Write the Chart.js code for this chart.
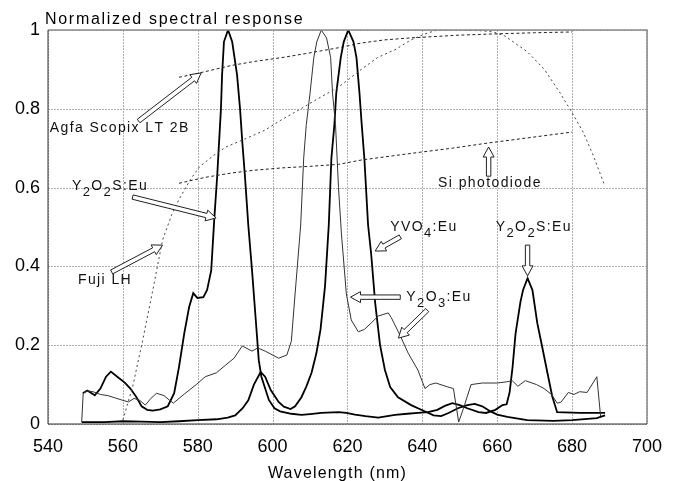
<!DOCTYPE html>
<html>
<head>
<meta charset="utf-8">
<script src="https://cdn.jsdelivr.net/npm/chart.js@4.4.0/dist/chart.umd.min.js"></script>
<style>
  html, body { margin: 0; padding: 0; background: #fff; }
</style>
</head>
<body>
<canvas id="spectrum" width="674" height="481"></canvas>
<script>
// Normalized spectral response vs wavelength

// Y2O2S:Eu (thick, peaks at 588 and 668 nm)
const y2o2sNm = [549.3, 550.5, 552.5, 554, 555.5, 556.8, 558.5, 560.5, 562, 563.5, 565, 566.5, 568, 570, 572, 573.7,
  575, 576.4, 577.7, 578.8, 579.9, 581.5, 582.5, 583.6, 584.4, 585.2, 585.7, 586.2, 586.5, 587, 588.1, 589.2, 590.5,
  591.3, 591.9, 592.6, 593.5, 594.5, 595.5, 596.3, 597, 599, 600.5, 602, 605, 607.7, 610, 613, 617.6, 619.7, 622,
  624.8, 628.2, 632.7, 636, 638.8, 641.5, 644, 646, 648, 650, 652, 655, 657, 659.5, 661.4, 662.5, 663.3, 664.1,
  664.9, 666.2, 666.9, 668.1, 669.4, 670.7, 672, 673.4, 674.7, 676, 682, 688.8];
const y2o2sVal = [0.078, 0.085, 0.073, 0.09, 0.12, 0.133, 0.12, 0.105, 0.09, 0.07, 0.045, 0.036, 0.034, 0.037, 0.045, 0.078,
  0.145, 0.23, 0.297, 0.332, 0.32, 0.322, 0.34, 0.39, 0.518, 0.63, 0.716, 0.8, 0.886, 0.97, 1.0, 0.97, 0.886,
  0.8, 0.716, 0.63, 0.505, 0.39, 0.264, 0.162, 0.12, 0.061, 0.04, 0.032, 0.026, 0.023, 0.025, 0.028, 0.03, 0.028, 0.024,
  0.02, 0.016, 0.023, 0.026, 0.028, 0.03, 0.036, 0.046, 0.053, 0.048, 0.04, 0.03, 0.028, 0.036, 0.048, 0.05, 0.08, 0.145,
  0.23, 0.31, 0.34, 0.37, 0.34, 0.256, 0.196, 0.13, 0.07, 0.03, 0.028, 0.028];

// YVO4:Eu (thick, peak at 620 nm)
const yvo4Nm = [549, 555, 560, 565, 570, 575, 580, 585, 588, 590, 592, 593.5, 595, 596.8, 598, 599.5, 601.6, 603, 604.8,
  606, 607.7, 609, 610.4, 611.7, 612.8, 614, 615, 615.7, 616.5, 617, 618.2, 619, 620.2, 621.6, 622.4, 623.2, 623.8,
  624.5, 625.5, 626.3, 627.4, 628.7, 630, 631.4, 633.5, 637, 640, 643, 645, 647, 649.5, 652, 654, 656, 658.2, 660,
  662.7, 668, 675, 680, 686.6, 688.8];
const yvo4Val = [0.005, 0.005, 0.007, 0.006, 0.005, 0.007, 0.01, 0.012, 0.016, 0.022, 0.04, 0.06, 0.1, 0.132, 0.12, 0.086,
  0.056, 0.044, 0.038, 0.045, 0.068, 0.095, 0.13, 0.18, 0.24, 0.35, 0.505, 0.675, 0.76, 0.84, 0.93, 0.97, 1.0, 0.97,
  0.93, 0.84, 0.76, 0.675, 0.505, 0.434, 0.307, 0.2, 0.137, 0.094, 0.068, 0.048, 0.035, 0.022, 0.02, 0.028, 0.04, 0.048,
  0.051, 0.045, 0.032, 0.024, 0.018, 0.01, 0.008, 0.01, 0.015, 0.022];

// Y2O3:Eu (thin, peak at 613 nm)
const y2o3Nm = [549, 549.4, 550.5, 552, 554, 556, 558, 560, 561.5, 563, 564.5, 566, 567.5, 569, 571, 572.5, 573.5, 575,
  576.4, 578, 579.6, 582, 585, 587.5, 589.7, 591.9, 594.5, 596, 598, 601.6, 603.8, 605, 606, 607.5, 608.3, 609, 610,
  611, 611.8, 613, 614.4, 615.5, 616, 616.8, 617.6, 618.4, 619.7, 621, 622.9, 624.5, 626.3, 628.2, 630.9, 631.7, 634,
  636.2, 638.8, 640.7, 642, 643.6, 646.8, 648.3, 649.7, 651, 652, 653, 656, 660, 662.5, 664, 665.5, 667.5, 670.5,
  672.5, 674.5, 676, 677, 679, 680.5, 682, 684, 686.6, 687.6];
const y2o3Val = [0.005, 0.078, 0.084, 0.082, 0.075, 0.072, 0.066, 0.06, 0.056, 0.065, 0.06, 0.048, 0.065, 0.078, 0.072, 0.06,
  0.053, 0.065, 0.076, 0.088, 0.1, 0.12, 0.13, 0.15, 0.167, 0.198, 0.185, 0.193, 0.185, 0.167, 0.175, 0.21, 0.33, 0.505,
  0.675, 0.76, 0.84, 0.93, 0.97, 1.0, 0.98, 0.93, 0.84, 0.76, 0.6, 0.48, 0.33, 0.264, 0.234, 0.24, 0.256, 0.274, 0.282,
  0.27, 0.226, 0.18, 0.137, 0.09, 0.1, 0.104, 0.094, 0.09, 0.005, 0.04, 0.07, 0.1, 0.104, 0.104, 0.107, 0.11, 0.096,
  0.11, 0.1, 0.09, 0.075, 0.053, 0.055, 0.08, 0.075, 0.082, 0.08, 0.12, 0.02];

// Agfa Scopix LT 2B (dashed)
const agfaNm = [575, 580, 589, 595, 602.5, 610, 617.6, 623.7, 630, 637, 650, 659, 670, 680];
const agfaVal = [0.88, 0.89, 0.91, 0.92, 0.93, 0.942, 0.955, 0.967, 0.975, 0.98, 0.987, 0.99, 0.993, 0.995];

// Fuji LH (dashed)
const fujiNm = [560, 562.6, 565.3, 568, 570.6, 573, 575, 578, 580.4, 584, 587.5, 593, 598, 602, 607, 612, 617.6, 623.7,
  628, 632.7, 637, 640.7, 644, 650, 656, 659, 662, 665, 668, 672.6, 676.8, 680, 683, 685.8, 688.5];
const fujiVal = [0.01, 0.094, 0.213, 0.34, 0.467, 0.53, 0.57, 0.62, 0.652, 0.68, 0.703, 0.725, 0.746, 0.77, 0.797, 0.825,
  0.855, 0.9, 0.93, 0.95, 0.975, 0.99, 1.0, 1.0, 0.998, 0.995, 0.985, 0.965, 0.945, 0.9, 0.84, 0.79, 0.74, 0.678, 0.61];

// Si photodiode (dashed)
const siNm = [575, 582, 589, 595, 602.5, 610, 617.6, 623.7, 630, 639.6, 648, 657.4, 668, 680];
const siVal = [0.611, 0.626, 0.637, 0.644, 0.65, 0.654, 0.659, 0.67, 0.678, 0.69, 0.7, 0.713, 0.726, 0.741];

const xTicks = [540, 560, 580, 600, 620, 640, 660, 680, 700];
const yTicks = [0, 0.2, 0.4, 0.6, 0.8, 1];
const yTickLabels = ['0', '0.2', '0.4', '0.6', '0.8', '1'];

function pts(xs, ys) {
  return xs.map((x, i) => ({ x: x, y: ys[i] }));
}

// annotation labels ("_" marks the next char as subscript), placed in data units
const labels = [
  { text: 'Agfa Scopix LT 2B', at: [540.5, 0.751] },
  { text: 'Y_2O_2S:Eu', at: [546.4, 0.604] },
  { text: 'Fuji LH', at: [548, 0.365] },
  { text: 'Si photodiode', at: [644.2, 0.612] },
  { text: 'YVO_4:Eu', at: [631.4, 0.5] },
  { text: 'Y_2O_2S:Eu', at: [659.6, 0.5] },
  { text: 'Y_2O_3:Eu', at: [635.7, 0.322] }
];
// hollow arrows: tail -> tip
const arrows = [
  [564.2, 0.769, 580.9, 0.891],
  [562.6, 0.576, 584.9, 0.523],
  [557, 0.386, 570.6, 0.454],
  [657.7, 0.629, 657.7, 0.703],
  [634.1, 0.475, 627.4, 0.439],
  [668.1, 0.454, 668.1, 0.376],
  [634.1, 0.322, 620.8, 0.322],
  [641.3, 0.289, 633.6, 0.218]
];

const FONT = '"Liberation Sans", Arial, Helvetica, sans-serif';

function drawArrow(ctx, x0, y0, x1, y1) {
  const dx = x1 - x0, dy = y1 - y0, len = Math.hypot(dx, dy);
  const ux = dx / len, uy = dy / len, nx = -uy, ny = ux;
  const hl = 10, sw = 2.2, hw = 5.5;
  const bx = x1 - ux * hl, by = y1 - uy * hl;
  const p = [
    [x0 + nx * sw, y0 + ny * sw], [bx + nx * sw, by + ny * sw], [bx + nx * hw, by + ny * hw],
    [x1, y1],
    [bx - nx * hw, by - ny * hw], [bx - nx * sw, by - ny * sw], [x0 - nx * sw, y0 - ny * sw]
  ];
  ctx.beginPath();
  ctx.moveTo(p[0][0], p[0][1]);
  for (let i = 1; i < p.length; i++) ctx.lineTo(p[i][0], p[i][1]);
  ctx.closePath();
  ctx.fillStyle = '#fff';
  ctx.fill();
  ctx.strokeStyle = '#222';
  ctx.lineWidth = 1;
  ctx.stroke();
}

function drawLabel(ctx, text, x, y) {
  let cx = x;
  ctx.textBaseline = 'middle';
  ctx.textAlign = 'left';
  for (let i = 0; i < text.length; i++) {
    let ch = text[i], sub = false;
    if (ch === '_') { sub = true; i++; ch = text[i]; }
    ctx.font = (sub ? '13px ' : '14px ') + FONT;
    ctx.fillText(ch, cx, sub ? y + 6 : y);
    cx += ctx.measureText(ch).width;
  }
}

function drawGrid(chart) {
  const { ctx, chartArea: a } = chart;
  const sx = chart.scales.x, sy = chart.scales.y;
  ctx.save();
  ctx.strokeStyle = '#b0b0b0';
  ctx.lineWidth = 1;
  ctx.setLineDash([2, 1]);
  for (const v of xTicks) {
    const px = Math.round(sx.getPixelForValue(v)) + 0.5;
    ctx.beginPath();
    ctx.moveTo(px, a.top);
    ctx.lineTo(px, a.bottom);
    ctx.stroke();
  }
  for (const v of yTicks) {
    const py = Math.round(sy.getPixelForValue(v)) + 0.5;
    ctx.beginPath();
    ctx.moveTo(a.left, py);
    ctx.lineTo(a.right, py);
    ctx.stroke();
  }
  ctx.restore();
}

const paper = {
  id: 'paper',
  beforeDraw(chart) {
    const ctx = chart.ctx;
    ctx.save();
    ctx.fillStyle = '#fff';
    ctx.fillRect(0, 0, chart.width, chart.height);
    ctx.restore();
    drawGrid(chart);
  },
  afterDatasetsDraw(chart) {
    const { ctx, chartArea: a } = chart;
    const sx = chart.scales.x, sy = chart.scales.y;
    ctx.save();
    // frame
    ctx.strokeStyle = '#8a8a8a';
    ctx.lineWidth = 1.5;
    ctx.beginPath();
    ctx.moveTo(a.left, a.top); ctx.lineTo(a.right, a.top); ctx.lineTo(a.right, a.bottom);
    ctx.stroke();
    ctx.strokeStyle = '#333';
    ctx.lineWidth = 1;
    ctx.beginPath();
    ctx.moveTo(a.left, a.top); ctx.lineTo(a.left, a.bottom); ctx.lineTo(a.right, a.bottom);
    ctx.stroke();

    arrows.forEach(r => drawArrow(ctx,
      sx.getPixelForValue(r[0]), sy.getPixelForValue(r[1]),
      sx.getPixelForValue(r[2]), sy.getPixelForValue(r[3])));

    ctx.fillStyle = '#111';
    ctx.letterSpacing = '1.4px';
    labels.forEach(l => drawLabel(ctx, l.text, sx.getPixelForValue(l.at[0]), sy.getPixelForValue(l.at[1])));

    // title and axis title
    ctx.fillStyle = '#000';
    ctx.textBaseline = 'alphabetic';
    ctx.textAlign = 'left';
    ctx.font = '16px ' + FONT;
    ctx.letterSpacing = '1.7px';
    ctx.fillText('Normalized spectral response', a.left - 3, 24);
    ctx.letterSpacing = '1.2px';
    ctx.textAlign = 'center';
    ctx.fillText('Wavelength (nm)', (a.left + a.right) / 2 - 10, 478);
    ctx.restore();
  }
};

const thick = { borderColor: '#000', borderWidth: 1.8 };
const dashed = { borderColor: '#222', borderWidth: 1, borderDash: [3, 2.5] };

new Chart(document.getElementById('spectrum'), {
  type: 'line',
  data: {
    datasets: [
      Object.assign({ label: 'Agfa Scopix LT 2B', data: pts(agfaNm, agfaVal) }, dashed),
      Object.assign({ label: 'Fuji LH', data: pts(fujiNm, fujiVal) }, dashed, { borderColor: '#444', borderDash: [2, 3] }),
      Object.assign({ label: 'Si photodiode', data: pts(siNm, siVal) }, dashed),
      { label: 'Y2O3:Eu', data: pts(y2o3Nm, y2o3Val), borderColor: '#333', borderWidth: 1 },
      Object.assign({ label: 'YVO4:Eu', data: pts(yvo4Nm, yvo4Val) }, thick),
      Object.assign({ label: 'Y2O2S:Eu', data: pts(y2o2sNm, y2o2sVal) }, thick)
    ]
  },
  options: {
    responsive: false,
    animation: false,
    elements: { point: { radius: 0 }, line: { tension: 0 } },
    layout: { padding: { top: 30, right: 24, left: 0, bottom: 0 } },
    plugins: { legend: { display: false }, tooltip: { enabled: false } },
    scales: {
      x: {
        type: 'linear', min: 540, max: 700,
        afterBuildTicks: s => { s.ticks = xTicks.map(v => ({ value: v })); },
        afterFit: s => { s.height = 57; },
        grid: { display: false, drawTicks: false },
        border: { display: false },
        ticks: { padding: 12, color: '#000', font: { family: FONT, size: 18 }, callback: v => String(v) }
      },
      y: {
        type: 'linear', min: 0, max: 1,
        afterBuildTicks: s => { s.ticks = yTicks.map(v => ({ value: v })); },
        afterFit: s => { s.width = 48; },
        grid: { display: false, drawTicks: false },
        border: { display: false },
        ticks: { padding: 8, color: '#000', font: { family: FONT, size: 18 },
          callback: (v, i) => yTickLabels[i] }
      }
    }
  },
  plugins: [paper]
});
</script>
</body>
</html>
